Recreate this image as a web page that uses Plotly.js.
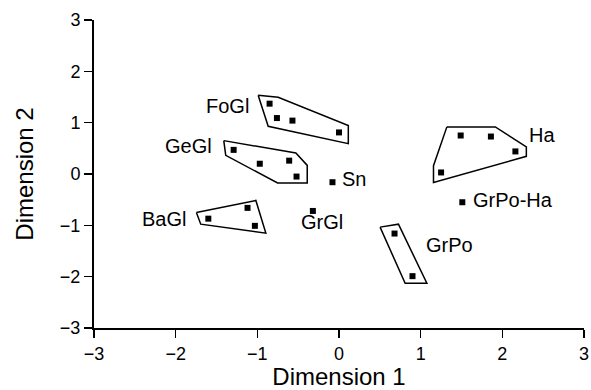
<!DOCTYPE html>
<html>
<head>
<meta charset="utf-8">
<script src="https://cdn.plot.ly/plotly-3.0.1.min.js"></script>
<style>html,body{margin:0;padding:0;background:#fff;}#chart{width:591px;height:390px;}</style>
</head>
<body>
<div id="chart"></div>
<script>
// Points (Dimension 1, Dimension 2)
var pointsX = [-0.85, -0.76, -0.57, 0.00,   -1.29, -0.97, -0.61, -0.52,   -1.60, -1.12, -1.03,   -0.08,   -0.32,   0.68, 0.90,   1.49, 1.86, 2.16, 1.25,   1.51];
var pointsY = [1.37, 1.09, 1.04, 0.81,   0.47, 0.20, 0.26, -0.05,   -0.87, -0.66, -1.01,   -0.16,   -0.72,   -1.16, -1.99,   0.75, 0.73, 0.44, 0.03,   -0.55];

// Cluster outlines
var hullFoGlX = [-0.99, -0.745, 0.114, 0.114, -0.867, -0.99];
var hullFoGlY = [1.535, 1.496, 0.943, 0.592, 0.93, 1.535];
var hullGeGlX = [-1.411, -0.528, -0.389, -0.389, -0.752, -1.387, -1.411];
var hullGeGlY = [0.650, 0.41, 0.168, -0.176, -0.176, 0.363, 0.650];
var hullBaGlX = [-1.746, -1.018, -0.896, -1.693, -1.746];
var hullBaGlY = [-0.75, -0.516, -1.152, -0.977, -0.75];
var hullGrPoX = [0.503, 0.728, 1.076, 0.81, 0.503];
var hullGrPoY = [-1.035, -0.977, -2.129, -2.129, -1.035];
var hullHaX = [1.321, 1.914, 2.294, 2.294, 1.157, 1.157, 1.321];
var hullHaY = [0.918, 0.918, 0.527, 0.344, -0.164, 0.162, 0.918];

// Labels
var labelText = ["FoGl", "GeGl", "BaGl", "Sn", "GrGl", "GrPo", "GrPo-Ha", "Ha"];
var labelX = [-1.092, -1.542, -1.856, 0.021, -0.479, 1.055, 1.628, 2.31];
var labelY = [1.32, 0.539, -0.879, -0.092, -0.9375, -1.381, -0.502, 0.754];
var labelAnchor = ["right", "right", "right", "left", "left", "left", "left", "left"];

var tickVals = [-3, -2, -1, 0, 1, 2, 3];

var hulls = [[hullFoGlX, hullFoGlY], [hullGeGlX, hullGeGlY], [hullBaGlX, hullBaGlY], [hullGrPoX, hullGrPoY], [hullHaX, hullHaY]];
var traces = hulls.map(function(h){
  return {x: h[0], y: h[1], mode: 'lines', type: 'scatter', line: {color: '#000', width: 1.5}, hoverinfo: 'skip', showlegend: false};
});
traces.push({x: pointsX, y: pointsY, mode: 'markers', type: 'scatter', marker: {symbol: 'square', size: 6, color: '#000'}, showlegend: false});

var font = "Liberation Sans, Arial, Helvetica, sans-serif";
var annotations = labelText.map(function(t, i){
  return {x: labelX[i], y: labelY[i], xref: 'x', yref: 'y', text: t, showarrow: false,
    xanchor: labelAnchor[i], yanchor: 'middle', borderpad: 0,
    font: {family: font, size: 20, color: '#000'}};
});

var axisCommon = {
  range: [-3, 3], tickvals: tickVals, showgrid: false, zeroline: false,
  showline: true, linecolor: '#000', linewidth: 2,
  ticks: 'outside', ticklen: 8, tickwidth: 1.5, tickcolor: '#000',
  tickfont: {family: font, size: 18, color: '#000'}, fixedrange: true
};

var layout = {
  width: 591, height: 390,
  margin: {l: 94, r: 7, t: 20, b: 62},
  paper_bgcolor: '#fff', plot_bgcolor: '#fff',
  xaxis: Object.assign({}, axisCommon, {title: {text: 'Dimension 1', font: {family: font, size: 24, color: '#000'}, standoff: 2}}),
  yaxis: Object.assign({}, axisCommon, {title: {text: 'Dimension 2', font: {family: font, size: 24, color: '#000'}, standoff: 19}}),
  annotations: annotations,
  showlegend: false
};

Plotly.newPlot('chart', traces, layout, {staticPlot: true, displayModeBar: false});
</script>
</body>
</html>
